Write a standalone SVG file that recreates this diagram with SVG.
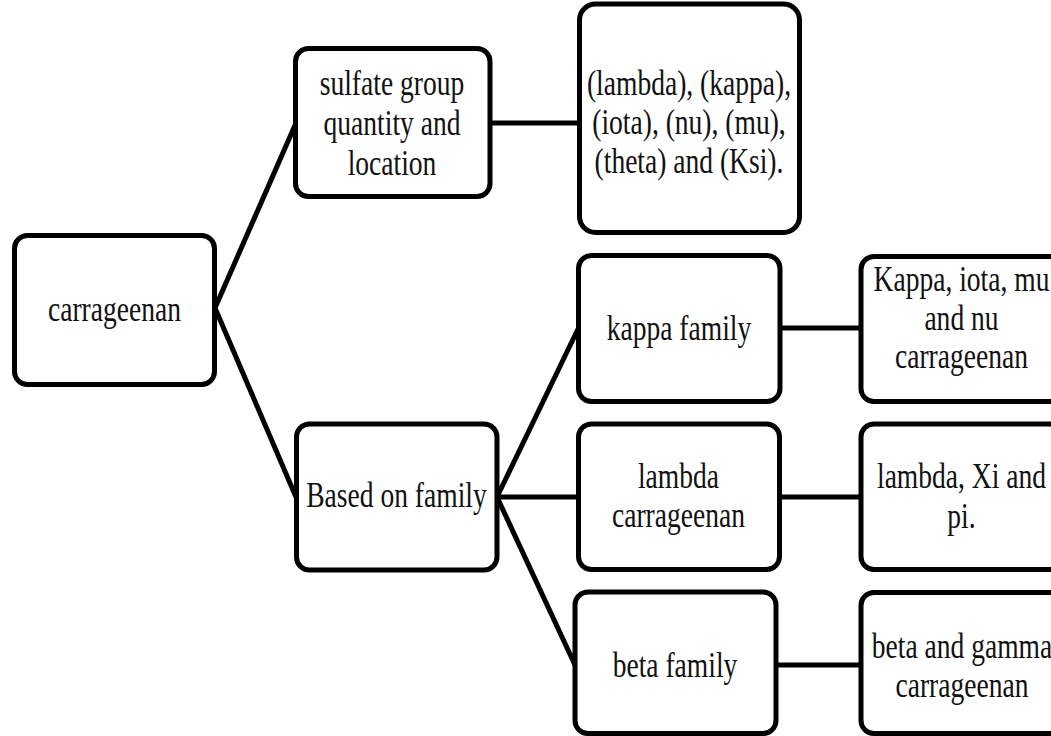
<svg xmlns="http://www.w3.org/2000/svg" width="1051" height="736" viewBox="0 0 1051 736">
<style>
.box{fill:#fff;stroke:#000;stroke-width:5}
.con{stroke:#000;stroke-width:5;fill:none}
text{font-family:"Liberation Serif","Times New Roman",serif;font-size:36px;fill:#111;text-anchor:middle;transform-box:fill-box;transform-origin:center;transform:scaleX(0.765)}
</style>
<rect width="1051" height="736" fill="#fff"/>
<g id="connectors">
<line class="con" x1="215" y1="308" x2="296" y2="123"/>
<line class="con" x1="215" y1="308" x2="296" y2="497"/>
<line class="con" x1="490" y1="123" x2="579" y2="123"/>
<line class="con" x1="497" y1="497" x2="578" y2="329"/>
<line class="con" x1="497" y1="497" x2="578" y2="497"/>
<line class="con" x1="497" y1="497" x2="575" y2="665"/>
<line class="con" x1="780" y1="328" x2="861" y2="328"/>
<line class="con" x1="780" y1="497" x2="861" y2="497"/>
<line class="con" x1="776" y1="665" x2="861" y2="665"/>
</g>
<g id="n-root">
<rect class="box" x="14.5" y="235.5" width="200" height="149" rx="13"/>
<text x="114.5" y="321">carrageenan</text>
</g>
<g id="n-sulfate">
<rect class="box" x="295.5" y="48.5" width="194.5" height="148" rx="13"/>
<text x="392" y="95">sulfate group</text>
<text x="392" y="135">quantity and</text>
<text x="392" y="175">location</text>
</g>
<g id="n-types">
<rect class="box" x="579.5" y="4" width="220" height="228.5" rx="16"/>
<text x="689" y="95">(lambda), (kappa),</text>
<text x="689" y="134">(iota), (nu), (mu),</text>
<text x="689" y="173">(theta) and (Ksi).</text>
</g>
<g id="n-based">
<rect class="box" x="296.5" y="424" width="200.5" height="146" rx="13"/>
<text x="396.5" y="507">Based on family</text>
</g>
<g id="n-kappa">
<rect class="box" x="578.5" y="255.5" width="201.5" height="146" rx="13"/>
<text x="679" y="340">kappa family</text>
</g>
<g id="n-kappa-list">
<rect class="box" x="861" y="256.5" width="201" height="145" rx="13"/>
<text x="961.5" y="291.5">Kappa, iota, mu</text>
<text x="961.5" y="330">and nu</text>
<text x="961.5" y="368">carrageenan</text>
</g>
<g id="n-lambda">
<rect class="box" x="578.5" y="424" width="201" height="145.5" rx="13"/>
<text x="678.5" y="488">lambda</text>
<text x="678.5" y="527">carrageenan</text>
</g>
<g id="n-lambda-list">
<rect class="box" x="861" y="424" width="201" height="145.5" rx="13"/>
<text x="961.5" y="488">lambda, Xi and</text>
<text x="961.5" y="528">pi.</text>
</g>
<g id="n-beta">
<rect class="box" x="575" y="592" width="201" height="141.5" rx="13"/>
<text x="675" y="677">beta family</text>
</g>
<g id="n-beta-list">
<rect class="box" x="861" y="592.5" width="201" height="141" rx="13"/>
<text x="962" y="658">beta and gamma</text>
<text x="962" y="697">carrageenan</text>
</g>
</svg>
